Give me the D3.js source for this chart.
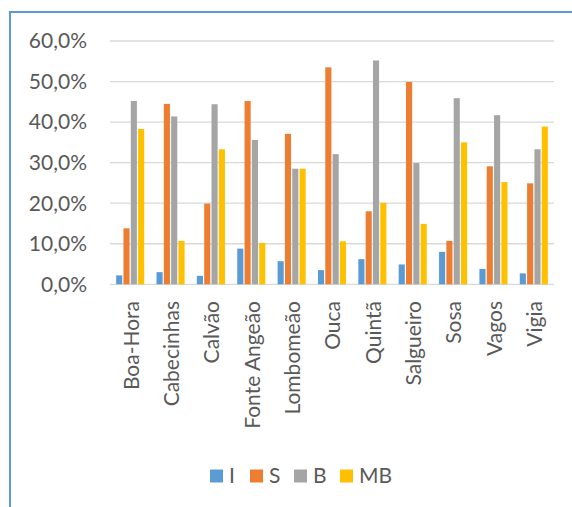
<!DOCTYPE html>
<html><head><meta charset="utf-8">
<script src="https://cdn.jsdelivr.net/npm/d3@7"></script>
<style>body{margin:0;background:#fff}svg{display:block}</style>
</head><body>
<script>
const categories = ["Boa-Hora","Cabecinhas","Calvão","Fonte Angeão","Lombomeão","Ouca","Quintã","Salgueiro","Sosa","Vagos","Vigia"];
const seriesNames = ["I","S","B","MB"];
const seriesI  = [2.2, 3.0, 2.1, 8.8, 5.7, 3.5, 6.2, 4.9, 8.0, 3.8, 2.7];
const seriesS  = [13.8, 44.5, 19.9, 45.2, 37.1, 53.5, 18.0, 49.9, 10.7, 29.1, 24.9];
const seriesB  = [45.2, 41.4, 44.4, 35.6, 28.5, 32.1, 55.2, 29.9, 45.9, 41.7, 33.3];
const seriesMB = [38.3, 10.7, 33.3, 10.2, 28.5, 10.6, 20.1, 14.9, 35.0, 25.2, 38.9];
const yTicks = [0, 10, 20, 30, 40, 50, 60];
const colors = ["#5b9bd5","#ed7d31","#a5a5a5","#ffc000"];

const allSeries = [seriesI, seriesS, seriesB, seriesMB];
const W = 572, H = 507;
const svg = d3.select("body").append("svg").attr("width", W).attr("height", H);
const font = "Lato, 'Open Sans', sans-serif";
const fs = 21;

// frame
svg.append("rect").attr("x", 10).attr("y", 12).attr("width", 600).attr("height", 600)
  .attr("fill", "none").attr("stroke", "#5b9bd5").attr("stroke-width", 2);

const x0 = d3.scaleBand().domain(categories).range([110, 554]).paddingInner(0).paddingOuter(0);
const gap = x0.bandwidth() * 0.275;
const x1 = d3.scaleBand().domain(seriesNames).range([gap / 2, x0.bandwidth() - gap / 2]).padding(0);
const y = d3.scaleLinear().domain([0, 60]).range([284.3, 41]);

// gridlines
svg.append("g").selectAll("line").data(yTicks).join("line")
  .attr("x1", 110).attr("x2", 554)
  .attr("y1", d => y(d)).attr("y2", d => y(d))
  .attr("stroke", "#d9d9d9").attr("stroke-width", 1.3);

// y labels
svg.append("g").selectAll("text").data(yTicks).join("text")
  .attr("x", 87).attr("y", d => y(d)).attr("dy", "0.35em")
  .attr("text-anchor", "end").attr("fill", "#595959")
  .attr("font-family", font).attr("font-size", fs)
  .text(d => d3.format(".1f")(d).replace(".", ",") + "%");

// bars
const groups = svg.append("g").selectAll("g").data(categories).join("g")
  .attr("transform", c => `translate(${x0(c)},0)`);
groups.selectAll("rect").data((c, i) => seriesNames.map((s, j) => ({s, v: allSeries[j][i], j})))
  .join("rect")
  .attr("x", d => x1(d.s) + 0.6).attr("width", x1.bandwidth() - 1.2)
  .attr("y", d => y(d.v)).attr("height", d => y(0) - y(d.v))
  .attr("fill", d => colors[d.j]);

// x labels
svg.append("g").selectAll("text").data(categories).join("text")
  .attr("transform", c => `translate(${x0(c) + x0.bandwidth() / 2 + 1},301) rotate(-90)`)
  .attr("dy", "0.35em").attr("text-anchor", "end").attr("fill", "#595959")
  .attr("font-family", font).attr("font-size", fs)
  .text(c => c);

// legend
const legX = [210, 250, 294, 340];
const leg = svg.append("g").selectAll("g").data(seriesNames).join("g")
  .attr("transform", (s, i) => `translate(${legX[i]},476)`);
leg.append("rect").attr("x", 0).attr("y", -6.5).attr("width", 13).attr("height", 13)
  .attr("fill", (s, i) => colors[i]);
leg.append("text").attr("x", 19).attr("dy", "0.35em").attr("fill", "#595959")
  .attr("font-family", font).attr("font-size", fs).text(s => s);
</script>
</body></html>
